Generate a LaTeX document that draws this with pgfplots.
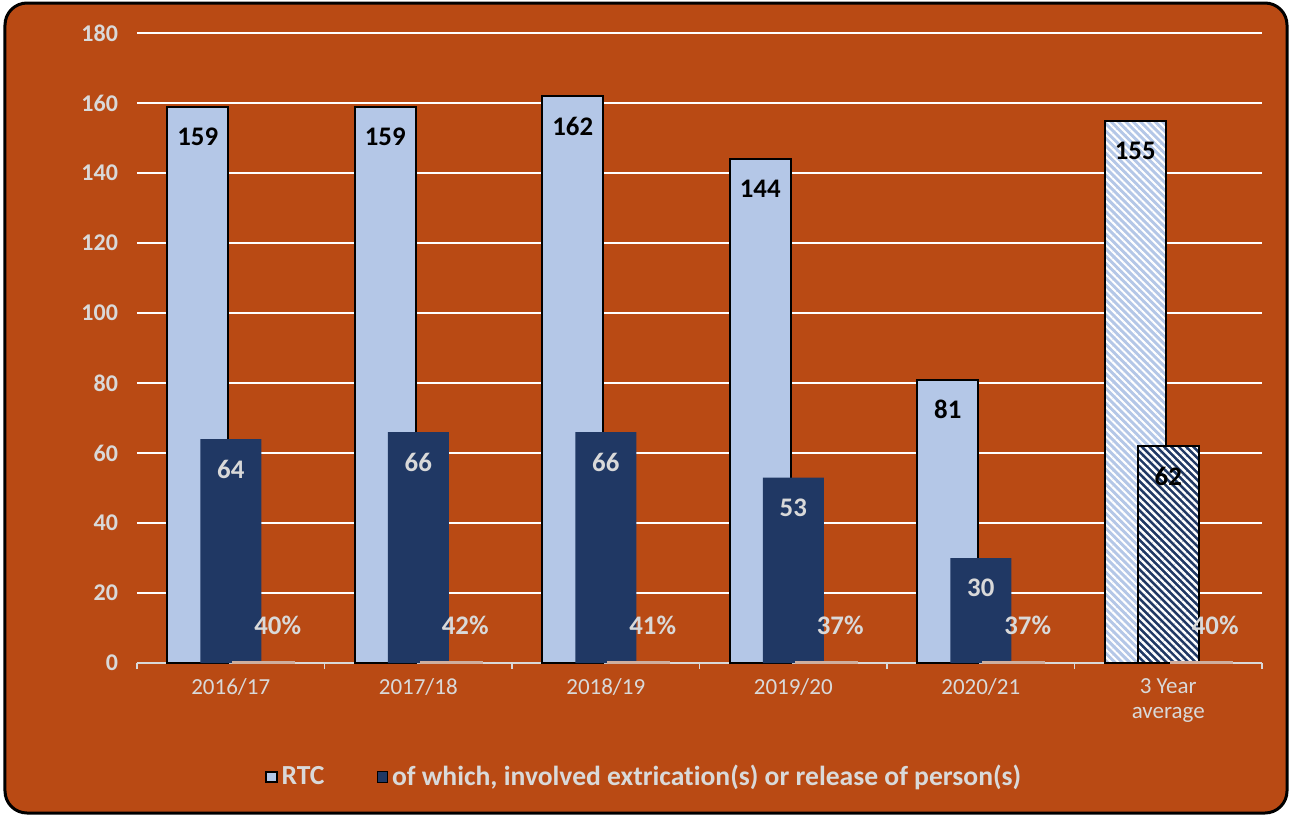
\documentclass[border=0pt]{standalone}
\usepackage{pgfplots}
\pgfplotsset{compat=1.18}
\usetikzlibrary{patterns.meta}
\usepackage{fontspec}
\setmainfont{Carlito}[Ligatures=NoCommon]
\definecolor{bg}{HTML}{B94A14}
\definecolor{lb}{HTML}{B4C7E7}
\definecolor{db}{HTML}{203864}
\definecolor{tx}{HTML}{D9D9D9}
\begin{document}
\begin{tikzpicture}
\path[use as bounding box] (-68.5pt,-76.5pt) rectangle (576.5pt,331.5pt);
\draw[line width=1.5pt, fill=bg, rounded corners=11pt] (-66pt,-75pt) rectangle (575pt,330pt);
\begin{axis}[
  at={(0,0)}, anchor=south west,
  scale only axis, width=562.5pt, height=315pt,
  xmin=-0.5, xmax=5.5, ymin=0, ymax=180,
  ytick={0,20,...,180},
  /pgf/number format/assume math mode=true,
  xtick={0,1,2,3,4,5},
  xticklabels={2016/17,2017/18,2018/19,2019/20,2020/21,{3 Year\\average}},
  x tick label style={align=center, font=\fontsize{11.5}{12.5}\selectfont, text=tx, yshift=-4pt},
  y tick label style={font=\fontsize{12}{12}\selectfont\bfseries, text=tx, xshift=-6pt},
  major tick length=0pt,
  minor xtick={-0.5,0.5,...,5.5},
  minor tick length=3pt,
  minor tick style={tx, line width=0.9pt},
  tick align=outside,
  axis x line*=bottom, axis y line*=left,
  y axis line style={draw=none},
  x axis line style={draw=tx, line width=0.9pt, -},
  ymajorgrids, grid style={white, line width=1pt},
  axis background/.style={fill=bg},
  ybar, bar width=30.5pt,
  point meta=explicit symbolic,
  nodes near coords,
  every node near coord/.append style={anchor=center, yshift=-15pt, font=\fontsize{13.4}{13.4}\selectfont\bfseries},
  legend style={at={(254pt,-57pt)}, anchor=center, draw=none, fill=none,
    legend columns=-1, font=\fontsize{13.8}{13.8}\selectfont\bfseries, text=tx,
    /tikz/every even column/.append style={column sep=24pt}},
  legend image code/.code={\draw[#1] (0pt,-2.7pt) rectangle (5.4pt,2.7pt);},
  clip=false,
]
\addplot[fill=lb, draw=black, line width=1pt, bar shift=-16.5pt,
  every node near coord/.append style={text=black}]
  coordinates {(0,159)[159] (1,159)[159] (2,162)[162] (3,144)[144] (4,81)[81]};
\addlegendentry{RTC}
\addplot[fill=db, draw=none, bar shift=0pt,
  every node near coord/.append style={text=tx}]
  coordinates {(0,64)[64] (1,66)[66] (2,66)[66] (3,53)[53] (4,30)[30]};
\addlegendentry{of which, involved extrication(s) or release of person(s)}
\addplot[forget plot, preaction={fill=lb}, pattern={Lines[angle=-45,distance=2.6pt,line width=1pt]}, pattern color=white, draw=black, line width=1pt, bar shift=-16.5pt,
  every node near coord/.append style={text=black}]
  coordinates {(5,155)[155]};
\addplot[forget plot, preaction={fill=db}, pattern={Lines[angle=-45,distance=2.6pt,line width=1.2pt]}, pattern color=white, draw=black, line width=1pt, bar shift=0pt,
  every node near coord/.append style={text=black}]
  coordinates {(5,62)[62]};
\addplot[forget plot, fill=none, draw=tx!70!bg, line width=0.8pt, bar shift=16.5pt,
  every node near coord/.append style={text=tx, yshift=33pt, xshift=7pt}]
  coordinates {(0,0.4)[40\%] (1,0.42)[42\%] (2,0.41)[41\%] (3,0.37)[37\%] (4,0.37)[37\%] (5,0.4)[40\%]};
\end{axis}
\end{tikzpicture}
\end{document}
